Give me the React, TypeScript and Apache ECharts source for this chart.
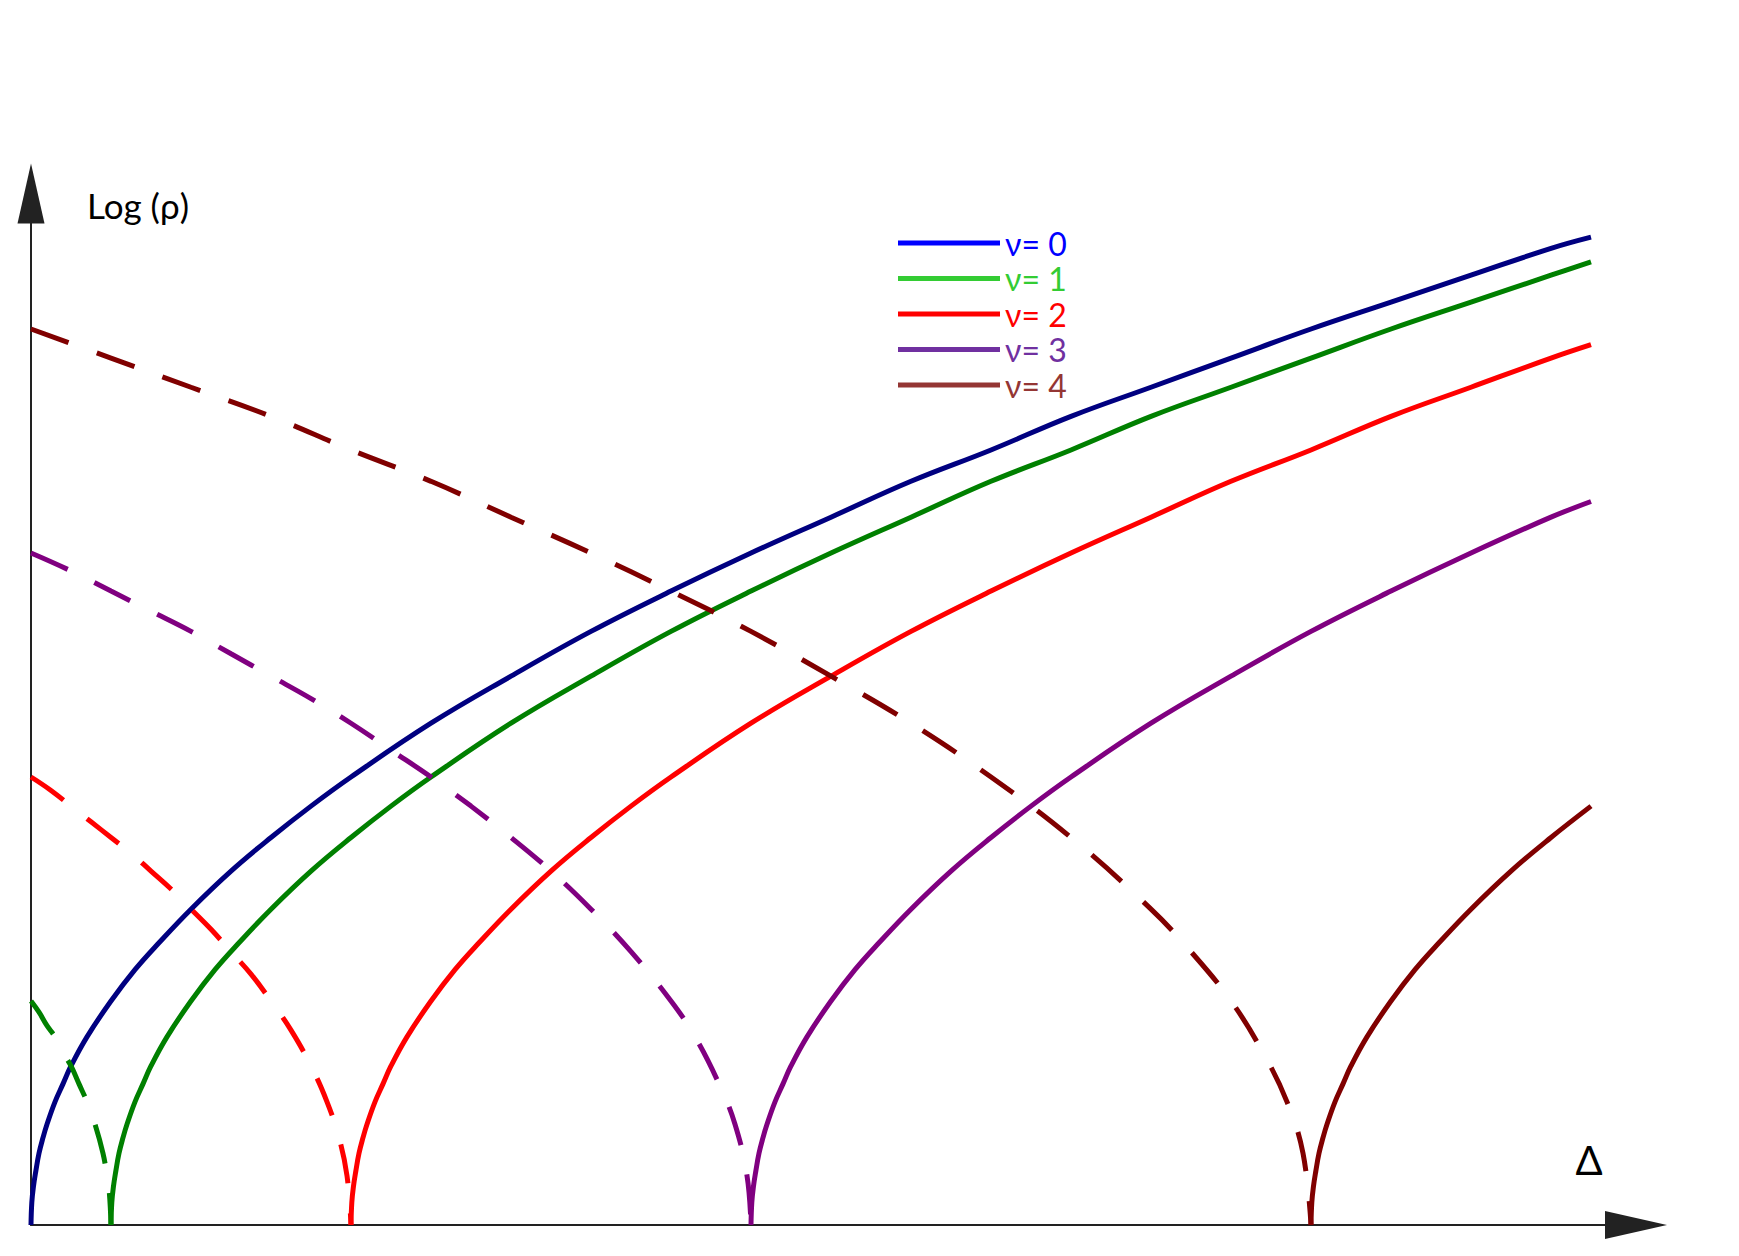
import React, { useEffect, useRef } from "react";
import * as echarts from "echarts";

const LEGEND_NAMES = ["ν= 0", "ν= 1", "ν= 2", "ν= 3", "ν= 4"];
const LINE_COLORS = ["#000080", "#008000", "#ff0000", "#800080", "#800000"];
const LEGEND_COLORS = ["#0000ff", "#33cc33", "#ff0000", "#7030a0", "#943634"];

// Solid curves (Δ, Log ρ)
const solid0: number[][] = [[0,0],[0.01,0.1],[0.03,0.17],[0.06,0.24],[0.1,0.32],[0.15,0.39],[0.2,0.45],[0.3,0.55],[0.4,0.63],[0.5,0.71],[0.7,0.84],[1,1],[1.3,1.14],[1.6,1.26],[2,1.41],[2.5,1.58],[3,1.73],[3.5,1.87],[4,2],[5,2.24],[6,2.45],[7,2.65],[8,2.83],[9,3],[10,3.16],[11,3.32],[12,3.46],[13,3.61],[14,3.74],[15,3.87],[16,4],[17,4.12],[18,4.24],[19,4.36],[19.5,4.41]];
const solid1: number[][] = [[1,0],[1.01,0.1],[1.03,0.17],[1.06,0.24],[1.1,0.32],[1.15,0.39],[1.2,0.45],[1.3,0.55],[1.4,0.63],[1.5,0.71],[1.7,0.84],[2,1],[2.3,1.14],[2.6,1.26],[3,1.41],[3.5,1.58],[4,1.73],[4.5,1.87],[5,2],[6,2.24],[7,2.45],[8,2.65],[9,2.83],[10,3],[11,3.16],[12,3.32],[13,3.46],[14,3.61],[15,3.74],[16,3.87],[17,4],[18,4.12],[19,4.24],[19.5,4.3]];
const solid2: number[][] = [[4,0],[4.01,0.1],[4.03,0.17],[4.06,0.24],[4.1,0.32],[4.15,0.39],[4.2,0.45],[4.3,0.55],[4.4,0.63],[4.5,0.71],[4.7,0.84],[5,1],[5.3,1.14],[5.6,1.26],[6,1.41],[6.5,1.58],[7,1.73],[7.5,1.87],[8,2],[9,2.24],[10,2.45],[11,2.65],[12,2.83],[13,3],[14,3.16],[15,3.32],[16,3.46],[17,3.61],[18,3.74],[19,3.87],[19.5,3.93]];
const solid3: number[][] = [[9,0],[9.01,0.1],[9.03,0.17],[9.06,0.24],[9.1,0.32],[9.15,0.39],[9.2,0.45],[9.3,0.55],[9.4,0.63],[9.5,0.71],[9.7,0.84],[10,1],[10.3,1.14],[10.6,1.26],[11,1.41],[11.5,1.58],[12,1.73],[12.5,1.87],[13,2],[14,2.24],[15,2.45],[16,2.65],[17,2.83],[18,3],[19,3.16],[19.5,3.23]];
const solid4: number[][] = [[16,0],[16.01,0.1],[16.03,0.17],[16.06,0.24],[16.1,0.32],[16.15,0.39],[16.2,0.45],[16.3,0.55],[16.4,0.63],[16.5,0.71],[16.7,0.84],[17,1],[17.3,1.14],[17.6,1.26],[18,1.41],[18.5,1.58],[19,1.73],[19.5,1.87]];

// Dashed curves (Δ, Log ρ)
const dashed1: number[][] = [[0,1],[0.1,0.95],[0.2,0.89],[0.3,0.84],[0.4,0.77],[0.5,0.71],[0.6,0.63],[0.7,0.55],[0.8,0.45],[0.9,0.32],[0.95,0.22],[0.98,0.14],[1,0]];
const dashed2: number[][] = [[0,2],[0.25,1.94],[0.5,1.87],[0.75,1.8],[1,1.73],[1.25,1.66],[1.5,1.58],[1.75,1.5],[2,1.41],[2.25,1.32],[2.5,1.22],[2.75,1.12],[3,1],[3.25,0.87],[3.5,0.71],[3.7,0.55],[3.85,0.39],[3.95,0.22],[4,0]];
const dashed3: number[][] = [[0,3],[0.5,2.92],[1,2.83],[1.5,2.74],[2,2.65],[2.5,2.55],[3,2.45],[3.5,2.35],[4,2.24],[4.5,2.12],[5,2],[5.5,1.87],[6,1.73],[6.5,1.58],[7,1.41],[7.5,1.22],[8,1],[8.3,0.84],[8.6,0.63],[8.8,0.45],[8.95,0.22],[9,0]];
const dashed4: number[][] = [[0,4],[1,3.87],[2,3.74],[3,3.61],[4,3.46],[5,3.32],[6,3.16],[7,3],[8,2.83],[9,2.65],[10,2.45],[11,2.24],[12,2],[13,1.73],[14,1.41],[14.5,1.22],[15,1],[15.4,0.77],[15.7,0.55],[15.9,0.32],[16,0]];

const SOLIDS = [solid0, solid1, solid2, solid3, solid4];
const DASHED: (number[][] | null)[] = [null, dashed1, dashed2, dashed3, dashed4];

const X_MAX = 20;
const Y_MAX = 4.6;
const FONT = "Lato, 'Open Sans', sans-serif";

export default function App() {
  const ref = useRef<HTMLDivElement>(null);
  useEffect(() => {
    document.body.style.margin = "0";
    document.body.style.overflow = "hidden";
    if (!ref.current) return;
    const chart = echarts.init(ref.current, null, { renderer: "svg" });
    const series: any[] = [];
    SOLIDS.forEach((d, i) => {
      series.push({
        name: LEGEND_NAMES[i],
        type: "line",
        data: d,
        symbol: "none",
        smooth: 0.4,
        lineStyle: { color: LINE_COLORS[i], width: 5 },
        itemStyle: { color: LINE_COLORS[i] },
        z: 2,
      });
    });
    DASHED.forEach((d, i) => {
      if (!d) return;
      series.push({
        name: LEGEND_NAMES[i],
        type: "line",
        data: d,
        symbol: "none",
        smooth: 0.4,
        lineStyle: { color: LINE_COLORS[i], width: 5, type: [40, 30] },
        itemStyle: { color: LINE_COLORS[i] },
        z: 3,
      });
    });
    chart.setOption({
      animation: false,
      backgroundColor: "#ffffff",
      grid: { left: 31, right: 108, top: 194.6, bottom: 31 },
      xAxis: {
        type: "value",
        min: 0,
        max: X_MAX,
        axisLabel: { show: false },
        axisTick: { show: false },
        splitLine: { show: false },
        axisLine: {
          show: true,
          lineStyle: { color: "#222", width: 2 },
          symbol: ["none", "triangle"],
          symbolSize: [28, 62],
          symbolOffset: [0, 5],
        },
      },
      yAxis: {
        type: "value",
        min: 0,
        max: Y_MAX,
        axisLabel: { show: false },
        axisTick: { show: false },
        splitLine: { show: false },
        axisLine: {
          show: true,
          lineStyle: { color: "#222", width: 2 },
          symbol: ["none", "triangle"],
          symbolSize: [27, 60],
          symbolOffset: [0, 1],
        },
      },
      legend: {
        orient: "vertical",
        left: 898,
        top: 227,
        padding: 0,
        itemWidth: 102,
        itemHeight: 5,
        itemGap: 3.5,
        selectedMode: false,
        textStyle: { fontFamily: FONT, fontSize: 32, lineHeight: 32 },
        data: LEGEND_NAMES.map((n, i) => ({
          name: n,
          icon: "rect",
          itemStyle: { color: LEGEND_COLORS[i] },
          textStyle: { color: LEGEND_COLORS[i], fontFamily: FONT, fontSize: 32, lineHeight: 32 },
        })),
      },
      graphic: [
        {
          type: "text",
          x: 87,
          y: 205,
          style: {
            text: "Log (ρ)",
            fill: "#000",
            font: `35px ${FONT}`,
            textAlign: "left",
            textVerticalAlign: "middle",
          },
        },
        {
          type: "text",
          x: 1589,
          y: 1160,
          style: {
            text: "Δ",
            fill: "#000",
            font: `40px ${FONT}`,
            textAlign: "center",
            textVerticalAlign: "middle",
          },
        },
      ],
      series,
    });
    return () => chart.dispose();
  }, []);
  return <div ref={ref} style={{ width: 1739, height: 1256 }} />;
}
